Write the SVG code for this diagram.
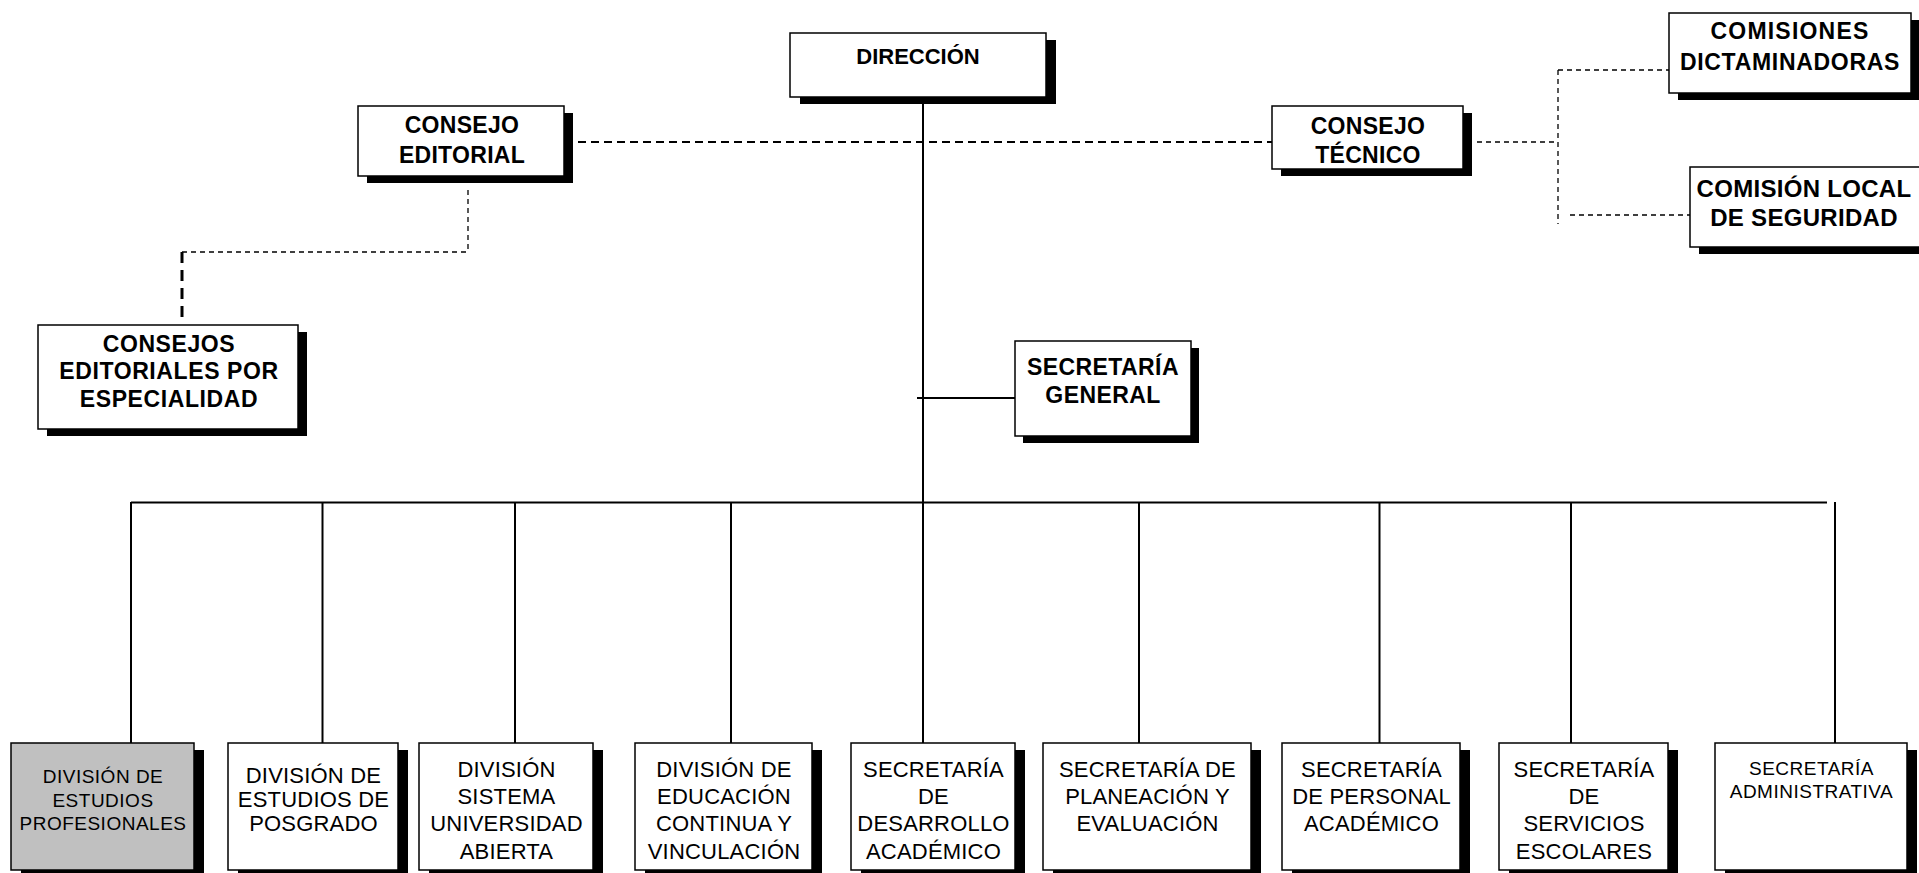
<svg xmlns="http://www.w3.org/2000/svg" width="1919" height="873" viewBox="0 0 1919 873">
  <style>
    .box { fill: #ffffff; stroke: #000000; stroke-width: 1.5; }
    .gray { fill: #c0c0c0; }
    .shadow { fill: #000000; }
    .hd { font-family: "Liberation Sans", Arial, sans-serif; font-weight: bold; font-size: 23px; letter-spacing: 0.3px; text-anchor: middle; fill: #000; }
    .bd { font-family: "Liberation Sans", Arial, sans-serif; font-size: 22px; letter-spacing: 0.2px; text-anchor: middle; fill: #000; }
    .sm { font-size: 19px; letter-spacing: 0.5px; }
    .solid { stroke: #000; stroke-width: 2; fill: none; }
    .dash-main { stroke: #000; stroke-width: 2; stroke-dasharray: 8 5; fill: none; }
    .dash-thin { stroke: #000; stroke-width: 1.3; stroke-dasharray: 5 4; fill: none; }
    .dash-thick { stroke: #000; stroke-width: 3; stroke-dasharray: 11 7; fill: none; }
  </style>

  <!-- connectors -->
  <g id="connectors">
    <!-- advisory bodies (dashed) -->
    <line class="dash-main" x1="578" y1="142" x2="1272" y2="142"/>
    <line class="dash-thin" x1="1477" y1="142" x2="1558" y2="142"/>
    <line class="dash-thin" x1="1558" y1="70" x2="1558" y2="224"/>
    <line class="dash-thin" x1="1558" y1="70" x2="1669" y2="70"/>
    <line class="dash-thin" x1="1570" y1="215" x2="1690" y2="215"/>
    <line class="dash-thin" x1="468" y1="190" x2="468" y2="252"/>
    <line class="dash-thin" x1="182" y1="252" x2="468" y2="252"/>
    <line class="dash-thick" x1="182" y1="252" x2="182" y2="318"/>
    <!-- main hierarchy -->
    <line class="solid" x1="923" y1="97" x2="923" y2="743"/>
    <line class="solid" x1="917" y1="398" x2="1015" y2="398"/>
    <line class="solid" x1="131" y1="502.5" x2="1827" y2="502.5"/>
    <line class="solid" x1="131" y1="502" x2="131" y2="743"/>
    <line class="solid" x1="322.5" y1="502" x2="322.5" y2="743"/>
    <line class="solid" x1="515" y1="502" x2="515" y2="743"/>
    <line class="solid" x1="731" y1="502" x2="731" y2="743"/>
    <line class="solid" x1="1139" y1="502" x2="1139" y2="743"/>
    <line class="solid" x1="1379.5" y1="502" x2="1379.5" y2="743"/>
    <line class="solid" x1="1571" y1="502" x2="1571" y2="743"/>
    <line class="solid" x1="1835" y1="502" x2="1835" y2="743"/>
  </g>

  <!-- top level -->
  <g id="direccion">
    <rect class="shadow" x="800" y="40" width="256" height="64"/>
    <rect class="box" x="790" y="33" width="256" height="64"/>
    <text class="hd" x="918" y="64" style="font-size:22px;letter-spacing:0px">DIRECCIÓN</text>
  </g>

  <g id="consejo-editorial">
    <rect class="shadow" x="367" y="113" width="206" height="70"/>
    <rect class="box" x="358" y="106" width="206" height="70"/>
    <text class="hd" x="462" y="133">CONSEJO</text>
    <text class="hd" x="462" y="163">EDITORIAL</text>
  </g>

  <g id="consejo-tecnico">
    <rect class="shadow" x="1281" y="113" width="191" height="63"/>
    <rect class="box" x="1272" y="106" width="191" height="63"/>
    <text class="hd" x="1368" y="134">CONSEJO</text>
    <text class="hd" x="1368" y="163">TÉCNICO</text>
  </g>

  <g id="comisiones-dictaminadoras">
    <rect class="shadow" x="1678" y="20" width="242" height="80"/>
    <rect class="box" x="1669" y="13" width="242" height="80"/>
    <text class="hd" x="1790" y="39" style="letter-spacing:1.2px">COMISIONES</text>
    <text class="hd" x="1790" y="70" style="letter-spacing:0.7px">DICTAMINADORAS</text>
  </g>

  <g id="comision-seguridad">
    <rect class="shadow" x="1699" y="174" width="230" height="80"/>
    <rect class="box" x="1690" y="167" width="230" height="80"/>
    <text class="hd" x="1804" y="197" style="font-size:24px;letter-spacing:0.3px">COMISIÓN LOCAL</text>
    <text class="hd" x="1804" y="226" style="font-size:24px;letter-spacing:0.3px">DE SEGURIDAD</text>
  </g>

  <g id="consejos-editoriales">
    <rect class="shadow" x="47" y="332" width="260" height="104"/>
    <rect class="box" x="38" y="325" width="260" height="104"/>
    <text class="hd" x="169" y="352" style="letter-spacing:0.6px">CONSEJOS</text>
    <text class="hd" x="169" y="379" style="letter-spacing:0.6px">EDITORIALES POR</text>
    <text class="hd" x="169" y="407" style="letter-spacing:0.6px">ESPECIALIDAD</text>
  </g>

  <g id="secretaria-general">
    <rect class="shadow" x="1023" y="348" width="176" height="95"/>
    <rect class="box" x="1015" y="341" width="176" height="95"/>
    <text class="hd" x="1103" y="375" style="letter-spacing:0.4px">SECRETARÍA</text>
    <text class="hd" x="1103" y="403" style="letter-spacing:0.4px">GENERAL</text>
  </g>

  <!-- operating units -->
  <g id="div-profesionales">
    <rect class="shadow" x="21" y="750" width="183" height="130"/>
    <rect class="box gray" x="11" y="743" width="183" height="127"/>
    <text class="bd sm" x="103" y="783">DIVISIÓN DE</text>
    <text class="bd sm" x="103" y="807">ESTUDIOS</text>
    <text class="bd sm" x="103" y="830">PROFESIONALES</text>
  </g>

  <g id="div-posgrado">
    <rect class="shadow" x="238" y="750" width="170" height="130"/>
    <rect class="box" x="228" y="743" width="170" height="127"/>
    <text class="bd" x="313.5" y="783">DIVISIÓN DE</text>
    <text class="bd" x="313.5" y="807">ESTUDIOS DE</text>
    <text class="bd" x="313.5" y="831">POSGRADO</text>
  </g>

  <g id="div-sua">
    <rect class="shadow" x="429" y="750" width="174" height="130"/>
    <rect class="box" x="419" y="743" width="174" height="127"/>
    <text class="bd" x="506.5" y="777">DIVISIÓN</text>
    <text class="bd" x="506.5" y="804">SISTEMA</text>
    <text class="bd" x="506.5" y="831">UNIVERSIDAD</text>
    <text class="bd" x="506.5" y="859">ABIERTA</text>
  </g>

  <g id="div-educacion-continua">
    <rect class="shadow" x="645" y="750" width="177" height="130"/>
    <rect class="box" x="635" y="743" width="177" height="127"/>
    <text class="bd" x="724" y="777">DIVISIÓN DE</text>
    <text class="bd" x="724" y="804">EDUCACIÓN</text>
    <text class="bd" x="724" y="831">CONTINUA Y</text>
    <text class="bd" x="724" y="859">VINCULACIÓN</text>
  </g>

  <g id="sec-desarrollo-academico">
    <rect class="shadow" x="861" y="750" width="164" height="130"/>
    <rect class="box" x="851" y="743" width="164" height="127"/>
    <text class="bd" x="933.5" y="777">SECRETARÍA</text>
    <text class="bd" x="933.5" y="804">DE</text>
    <text class="bd" x="933.5" y="831">DESARROLLO</text>
    <text class="bd" x="933.5" y="859">ACADÉMICO</text>
  </g>

  <g id="sec-planeacion">
    <rect class="shadow" x="1053" y="750" width="208" height="130"/>
    <rect class="box" x="1043" y="743" width="208" height="127"/>
    <text class="bd" x="1147.5" y="777">SECRETARÍA DE</text>
    <text class="bd" x="1147.5" y="804">PLANEACIÓN Y</text>
    <text class="bd" x="1147.5" y="831">EVALUACIÓN</text>
  </g>

  <g id="sec-personal-academico">
    <rect class="shadow" x="1292" y="750" width="178" height="130"/>
    <rect class="box" x="1282" y="743" width="178" height="127"/>
    <text class="bd" x="1371.5" y="777">SECRETARÍA</text>
    <text class="bd" x="1371.5" y="804">DE PERSONAL</text>
    <text class="bd" x="1371.5" y="831">ACADÉMICO</text>
  </g>

  <g id="sec-servicios-escolares">
    <rect class="shadow" x="1509" y="750" width="169" height="130"/>
    <rect class="box" x="1499" y="743" width="169" height="127"/>
    <text class="bd" x="1584" y="777">SECRETARÍA</text>
    <text class="bd" x="1584" y="804">DE</text>
    <text class="bd" x="1584" y="831">SERVICIOS</text>
    <text class="bd" x="1584" y="859">ESCOLARES</text>
  </g>

  <g id="sec-administrativa">
    <rect class="shadow" x="1725" y="750" width="192" height="130"/>
    <rect class="box" x="1715" y="743" width="192" height="127"/>
    <text class="bd sm" x="1811.5" y="775">SECRETARÍA</text>
    <text class="bd sm" x="1811.5" y="798">ADMINISTRATIVA</text>
  </g>
</svg>
